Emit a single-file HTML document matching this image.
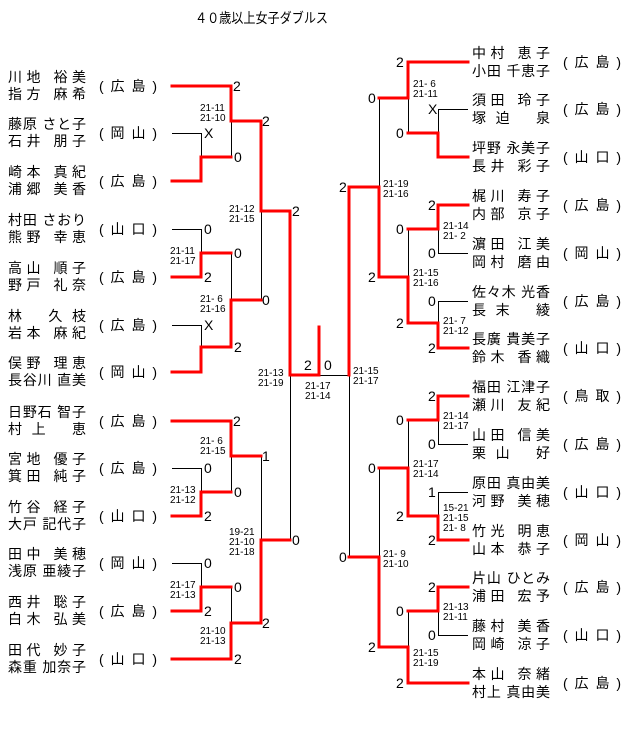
<!DOCTYPE html>
<html><head><meta charset="utf-8"><style>
html,body{margin:0;padding:0;background:#fff;}
svg{display:block;}
text{font-family:"Liberation Sans","Noto Sans CJK JP",sans-serif;fill:#000;}
.n{font-size:14px;}
.s{font-size:14px;}
.l{font-size:10px;}
.r{fill:none;stroke:#f00;stroke-width:3;stroke-linejoin:miter;stroke-linecap:square;}
.b{fill:none;stroke:#000;stroke-width:1;}
</style></head><body>
<svg width="640" height="749" viewBox="0 0 640 749" xmlns="http://www.w3.org/2000/svg" xml:space="preserve">
<text x="195" y="23" class="n" textLength="133" lengthAdjust="spacingAndGlyphs">４０歳以上女子ダブルス</text>

<g class="b">
<path d="M172,133.5H201.5V157 M231.5,121V157"/>
<path d="M172,229.5H201.5V253 M231.5,253V300 M261.5,211V300"/>
<path d="M172,325.5H201.5V347"/>
<path d="M231.5,456V492 M172,468.5H201.5V492"/>
<path d="M172,563.5H201.5V587 M231.5,587V623 M261.5,456V540"/>
<path d="M290.5,375V540 M290,375.5H349 M349.5,375V557"/>
<path d="M468,109.5H438.5V133 M408.5,98V133 M379.5,98V187"/>
<path d="M468,253.5H438.5V229 M408.5,229V277"/>
<path d="M468,301.5H438.5V323"/>
<path d="M468,444.5H438.5V420 M408.5,420V468"/>
<path d="M468,492.5H438.5V516 M379.5,468V557"/>
<path d="M468,635.5H438.5V611 M408.5,611V647"/>
</g>
<g class="r">
<path d="M172,86H231V121H261V211H290V375H319V327"/>
<path d="M172,181H201V157H231"/>
<path d="M172,277H201V253H231"/>
<path d="M172,372H201V347H231V300H261"/>
<path d="M172,421H231V456H261"/>
<path d="M172,516H201V492H231"/>
<path d="M172,611H201V587H231"/>
<path d="M172,659H231V623H261V540H290"/>
<path d="M468,62H408V98H379"/>
<path d="M468,157H438V133H408"/>
<path d="M468,205H438V229H408"/>
<path d="M468,348H438V323H408V277H379V187H349V375"/>
<path d="M468,396H438V420H408"/>
<path d="M468,540H438V516H408V468H379"/>
<path d="M468,587H438V611H408"/>
<path d="M468,683H408V647H379V557H349"/>
</g>

<g class="s">
<text x="233" y="91">2</text><text x="204" y="138">X</text><text x="234" y="162">0</text>
<text x="262" y="126">2</text><text x="292" y="216">2</text><text x="204" y="234">0</text>
<text x="234" y="258">0</text><text x="204" y="282">2</text><text x="262" y="305">0</text>
<text x="204" y="330">X</text><text x="234" y="352">2</text>
<text x="233" y="426">2</text><text x="204" y="473">0</text><text x="204" y="521">2</text>
<text x="234" y="497">0</text><text x="262" y="461">1</text><text x="204" y="568">0</text>
<text x="204" y="616">2</text><text x="234" y="592">0</text><text x="234" y="664">2</text>
<text x="262" y="628">2</text><text x="292" y="545">0</text>
<text x="304" y="370">2</text><text x="324" y="370">0</text>
<text x="396" y="67">2</text><text x="428" y="114">X</text><text x="396" y="138">0</text>
<text x="368" y="103">0</text><text x="339" y="192">2</text><text x="428" y="210">2</text>
<text x="396" y="234">0</text><text x="428" y="258">0</text><text x="368" y="282">2</text>
<text x="428" y="306">0</text><text x="396" y="328">2</text><text x="428" y="353">2</text>
<text x="428" y="401">2</text><text x="396" y="425">0</text><text x="428" y="449">0</text>
<text x="368" y="473">0</text><text x="428" y="497">1</text><text x="396" y="521">2</text>
<text x="428" y="545">2</text><text x="339" y="562">0</text><text x="428" y="592">2</text>
<text x="396" y="616">0</text><text x="428" y="640">0</text><text x="368" y="652">2</text>
<text x="396" y="688">2</text>
</g>

<g class="l">
<text x="200" y="111">21-11</text><text x="200" y="121">21-10</text>
<text x="229" y="212">21-12</text><text x="229" y="222">21-15</text>
<text x="170" y="254">21-11</text><text x="170" y="264">21-17</text>
<text x="200" y="302">21- 6</text><text x="200" y="312">21-16</text>
<text x="258" y="376">21-13</text><text x="258" y="386">21-19</text>
<text x="200" y="444">21- 6</text><text x="200" y="454">21-15</text>
<text x="170" y="493">21-13</text><text x="170" y="503">21-12</text>
<text x="229" y="535">19-21</text><text x="229" y="545">21-10</text><text x="229" y="555">21-18</text>
<text x="170" y="588">21-17</text><text x="170" y="598">21-13</text>
<text x="200" y="634">21-10</text><text x="200" y="644">21-13</text>
<text x="305" y="389">21-17</text><text x="305" y="399">21-14</text>
<text x="413" y="87">21- 6</text><text x="413" y="97">21-11</text>
<text x="383" y="187">21-19</text><text x="383" y="197">21-16</text>
<text x="443" y="229">21-14</text><text x="443" y="239">21- 2</text>
<text x="413" y="276">21-15</text><text x="413" y="286">21-16</text>
<text x="443" y="324">21- 7</text><text x="443" y="334">21-12</text>
<text x="353" y="374">21-15</text><text x="353" y="384">21-17</text>
<text x="443" y="419">21-14</text><text x="443" y="429">21-17</text>
<text x="413" y="467">21-17</text><text x="413" y="477">21-14</text>
<text x="443" y="511">15-21</text><text x="443" y="521">21-15</text><text x="443" y="531">21- 8</text>
<text x="383" y="557">21- 9</text><text x="383" y="567">21-10</text>
<text x="443" y="610">21-13</text><text x="443" y="620">21-11</text>
<text x="413" y="656">21-15</text><text x="413" y="666">21-19</text>
</g>

<g class="n">
<text x="8" y="82" textLength="78">川地 裕美</text><text x="8" y="99" textLength="78">指方 麻希</text><text x="99" y="91" textLength="58">( 広 島 )</text>
<text x="8" y="129" textLength="78">藤原 さと子</text><text x="8" y="146" textLength="78">石井 朋子</text><text x="99" y="138" textLength="58">( 岡 山 )</text>
<text x="8" y="177" textLength="78">崎本 真紀</text><text x="8" y="194" textLength="78">浦郷 美香</text><text x="99" y="186" textLength="58">( 広 島 )</text>
<text x="8" y="225" textLength="78">村田 さおり</text><text x="8" y="242" textLength="78">熊野 幸恵</text><text x="99" y="234" textLength="58">( 山 口 )</text>
<text x="8" y="273" textLength="78">高山 順子</text><text x="8" y="290" textLength="78">野戸 礼奈</text><text x="99" y="282" textLength="58">( 広 島 )</text>
<text x="8" y="321" textLength="78">林　 久 枝</text><text x="8" y="338" textLength="78">岩本 麻紀</text><text x="99" y="330" textLength="58">( 広 島 )</text>
<text x="8" y="368" textLength="78">俣野 理恵</text><text x="8" y="385" textLength="78">長谷川 直美</text><text x="99" y="377" textLength="58">( 岡 山 )</text>
<text x="8" y="417" textLength="78">日野石 智子</text><text x="8" y="434" textLength="78">村 上　 恵</text><text x="99" y="426" textLength="58">( 広 島 )</text>
<text x="8" y="464" textLength="78">宮地 優子</text><text x="8" y="481" textLength="78">箕田 純子</text><text x="99" y="473" textLength="58">( 広 島 )</text>
<text x="8" y="512" textLength="78">竹谷 経子</text><text x="8" y="529" textLength="78">大戸 記代子</text><text x="99" y="521" textLength="58">( 山 口 )</text>
<text x="8" y="559" textLength="78">田中 美穂</text><text x="8" y="576" textLength="78">浅原 亜綾子</text><text x="99" y="568" textLength="58">( 岡 山 )</text>
<text x="8" y="607" textLength="78">西井 聡子</text><text x="8" y="624" textLength="78">白木 弘美</text><text x="99" y="616" textLength="58">( 広 島 )</text>
<text x="8" y="655" textLength="78">田代 妙子</text><text x="8" y="672" textLength="78">森重 加奈子</text><text x="99" y="664" textLength="58">( 山 口 )</text>
</g>
<g class="n">
<text x="472" y="58" textLength="78">中村 恵子</text><text x="472" y="76" textLength="78">小田 千恵子</text><text x="563" y="67" textLength="58">( 広 島 )</text>
<text x="472" y="105" textLength="78">須田 玲子</text><text x="472" y="123" textLength="78">塚 迫　 泉</text><text x="563" y="114" textLength="58">( 広 島 )</text>
<text x="472" y="153" textLength="78">坪野 永美子</text><text x="472" y="171" textLength="78">長井 彩子</text><text x="563" y="162" textLength="58">( 山 口 )</text>
<text x="472" y="201" textLength="78">梶川 寿子</text><text x="472" y="219" textLength="78">内部 京子</text><text x="563" y="210" textLength="58">( 広 島 )</text>
<text x="472" y="249" textLength="78">濵田 江美</text><text x="472" y="267" textLength="78">岡村 磨由</text><text x="563" y="258" textLength="58">( 岡 山 )</text>
<text x="472" y="297" textLength="78">佐々木 光香</text><text x="472" y="315" textLength="78">長 末　 綾</text><text x="563" y="306" textLength="58">( 広 島 )</text>
<text x="472" y="344" textLength="78">長廣 貴美子</text><text x="472" y="362" textLength="78">鈴木 香織</text><text x="563" y="353" textLength="58">( 山 口 )</text>
<text x="472" y="392" textLength="78">福田 江津子</text><text x="472" y="410" textLength="78">瀬川 友紀</text><text x="563" y="401" textLength="58">( 鳥 取 )</text>
<text x="472" y="440" textLength="78">山田 信美</text><text x="472" y="458" textLength="78">栗 山　 好</text><text x="563" y="449" textLength="58">( 広 島 )</text>
<text x="472" y="488" textLength="78">原田 真由美</text><text x="472" y="506" textLength="78">河野 美穂</text><text x="563" y="497" textLength="58">( 山 口 )</text>
<text x="472" y="536" textLength="78">竹光 明恵</text><text x="472" y="554" textLength="78">山本 恭子</text><text x="563" y="545" textLength="58">( 岡 山 )</text>
<text x="472" y="583" textLength="78">片山 ひとみ</text><text x="472" y="601" textLength="78">浦田 宏予</text><text x="563" y="592" textLength="58">( 広 島 )</text>
<text x="472" y="631" textLength="78">藤村 美香</text><text x="472" y="649" textLength="78">岡崎 涼子</text><text x="563" y="640" textLength="58">( 山 口 )</text>
<text x="472" y="679" textLength="78">本山 奈緒</text><text x="472" y="697" textLength="78">村上 真由美</text><text x="563" y="688" textLength="58">( 広 島 )</text>
</g>
</svg>
</body></html>
